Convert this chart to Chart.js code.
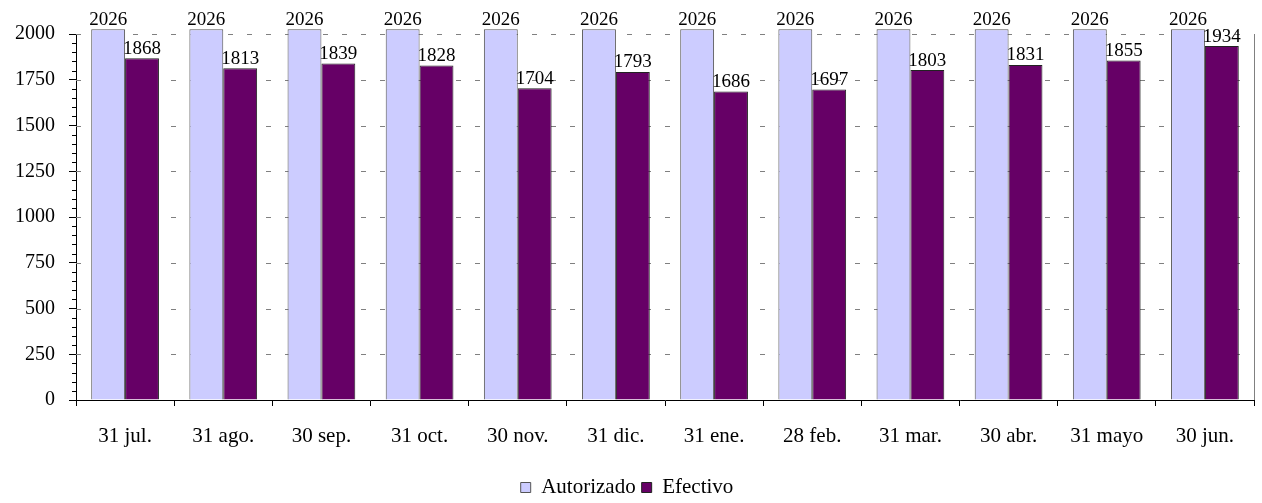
<!DOCTYPE html>
<html>
<head>
<meta charset="utf-8">
<script src="https://cdn.jsdelivr.net/npm/chart.js@4.4.1/dist/chart.umd.min.js"></script>
<style>
  html, body { margin: 0; padding: 0; background: #fff; }
  #wrap { width: 1262px; height: 503px; }
</style>
</head>
<body>
<div id="wrap"><canvas id="c" width="1262" height="503"></canvas></div>
<script>
// --- datos ---
const categories = ['31 jul.', '31 ago.', '30 sep.', '31 oct.', '30 nov.', '31 dic.',
                    '31 ene.', '28 feb.', '31 mar.', '30 abr.', '31 mayo', '30 jun.'];
const autorizado = [2026, 2026, 2026, 2026, 2026, 2026, 2026, 2026, 2026, 2026, 2026, 2026];
const efectivo = [1868, 1813, 1839, 1828, 1704, 1793, 1686, 1697, 1803, 1831, 1855, 1934];
const yTicks = [0, 250, 500, 750, 1000, 1250, 1500, 1750, 2000];

const SERIF = '"Liberation Serif", "Times New Roman", serif';

// lineas de division punteadas, detras de las barras
const gridPlugin = {
  id: 'dashGrid',
  beforeDatasetsDraw(chart) {
    const { ctx, chartArea: a } = chart;
    const y = chart.scales.y;
    ctx.save();
    ctx.strokeStyle = '#808080';
    ctx.lineWidth = 1;
    ctx.setLineDash([5, 14]);
    yTicks.forEach(v => {
      if (v === 0) return;
      const py = Math.round(y.getPixelForValue(v)) + 0.5;
      ctx.beginPath();
      ctx.moveTo(a.left, py);
      ctx.lineTo(a.right, py);
      ctx.stroke();
    });
    ctx.setLineDash([]);
    // borde derecho
    ctx.beginPath();
    ctx.moveTo(Math.round(a.right) + 0.5, a.top);
    ctx.lineTo(Math.round(a.right) + 0.5, a.bottom);
    ctx.stroke();
    ctx.restore();
  },
  afterDraw(chart) {
    // marcas menores del eje Y
    const { ctx, chartArea: a } = chart;
    const y = chart.scales.y;
    ctx.save();
    ctx.strokeStyle = '#000';
    ctx.lineWidth = 1;
    for (let v = 0; v <= 2000; v += 50) {
      if (v % 250 === 0) continue;
      const py = Math.round(y.getPixelForValue(v)) + 0.5;
      ctx.beginPath();
      ctx.moveTo(a.left - 4, py);
      ctx.lineTo(a.left, py);
      ctx.stroke();
    }
    ctx.restore();
  }
};

// etiquetas de valor sobre las barras
const labelPlugin = {
  id: 'valueLabels',
  afterDatasetsDraw(chart) {
    const { ctx } = chart;
    ctx.save();
    ctx.font = '19px ' + SERIF;
    ctx.fillStyle = '#000';
    ctx.textAlign = 'center';
    ctx.textBaseline = 'bottom';
    chart.data.datasets.forEach((ds, i) => {
      const meta = chart.getDatasetMeta(i);
      meta.data.forEach((bar, j) => {
        ctx.fillText(String(ds.data[j]), bar.x, bar.y);
      });
    });
    ctx.restore();
  }
};

new Chart(document.getElementById('c'), {
  type: 'bar',
  data: {
    labels: categories,
    datasets: [
      {
        label: 'Autorizado',
        data: autorizado,
        backgroundColor: '#CCCCFF',
        borderColor: '#555555',
        borderWidth: 1,
        clip: false,
        categoryPercentage: 0.69,
        barPercentage: 1.0
      },
      {
        label: 'Efectivo',
        data: efectivo,
        backgroundColor: '#660066',
        borderColor: '#222222',
        borderWidth: 1,
        clip: false,
        categoryPercentage: 0.69,
        barPercentage: 1.0
      }
    ]
  },
  options: {
    responsive: false,
    animation: false,
    layout: { padding: { top: 34, right: 8, left: 0, bottom: -5 } },
    plugins: {
      legend: {
        position: 'bottom',
        labels: {
          font: { family: SERIF, size: 21 },
          color: '#000',
          boxWidth: 10,
          boxHeight: 10,
          padding: 6
        }
      },
      tooltip: { enabled: false }
    },
    scales: {
      x: {
        grid: {
          offset: true,
          drawOnChartArea: false,
          tickLength: 6,
          color: '#000'
        },
        border: { color: '#000', width: 1 },
        ticks: {
          font: { family: SERIF, size: 21 },
          color: '#000',
          padding: 18,
          maxRotation: 0
        },
        afterFit(scale) { scale.height = 71; }
      },
      y: {
        min: 0,
        max: 2000,
        afterBuildTicks(scale) { scale.ticks = yTicks.map(v => ({ value: v })); },
        grid: {
          drawOnChartArea: false,
          tickLength: 7,
          color: '#000'
        },
        border: { color: '#000', width: 1 },
        ticks: {
          font: { family: SERIF, size: 20 },
          color: '#000',
          padding: 14,
          callback: v => String(v)
        },
        afterFit(scale) { scale.width = 76; }
      }
    }
  },
  plugins: [gridPlugin, labelPlugin]
});
</script>
</body>
</html>
